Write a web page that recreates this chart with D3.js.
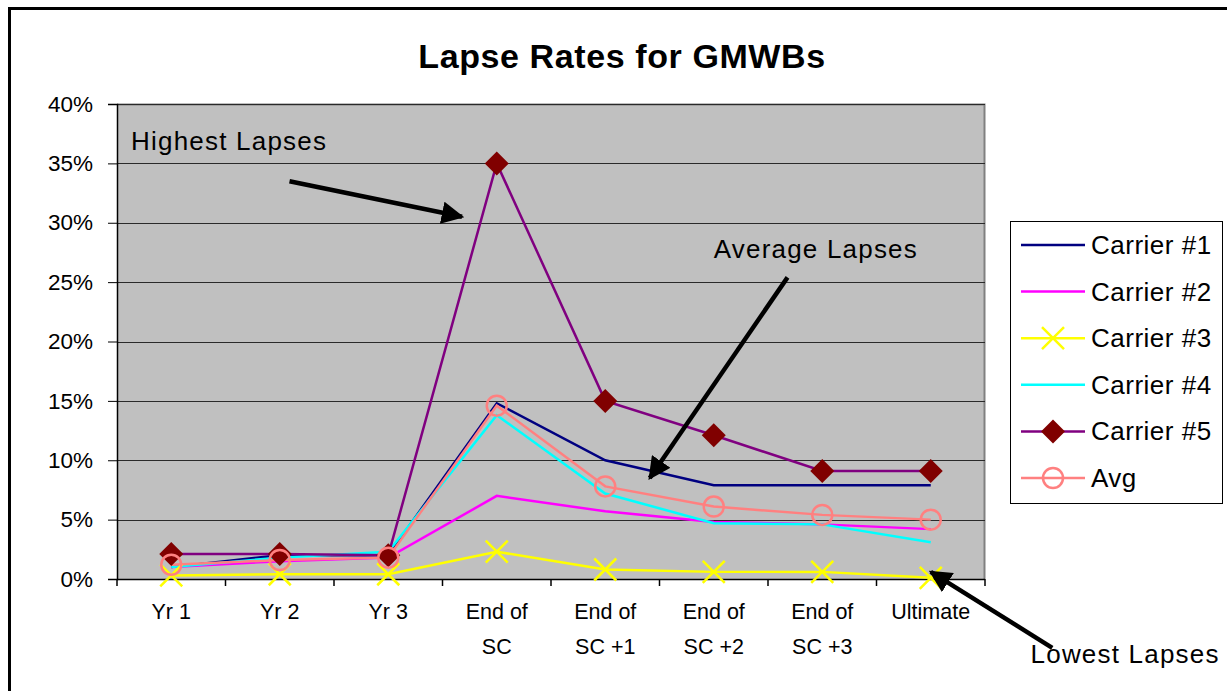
<!DOCTYPE html>
<html><head><meta charset="utf-8">
<script src="https://cdn.jsdelivr.net/npm/d3@7"></script>
<style>
html,body{margin:0;padding:0;background:#fff;}
svg{display:block;font-family:Arial,"Liberation Sans",sans-serif;}
</style></head>
<body>
<svg id="chart" width="1227" height="691"></svg>
<script>
const categories = [["Yr 1"],["Yr 2"],["Yr 3"],["End of","SC"],["End of","SC +1"],["End of","SC +2"],["End of","SC +3"],["Ultimate"]];
const carrier1 = [1.0, 2.0, 2.0, 14.8, 10.0, 7.9, 7.9, 7.9];
const carrier2 = [1.0, 1.5, 1.8, 7.0, 5.7, 4.8, 4.6, 4.2];
const carrier3 = [0.3, 0.4, 0.4, 2.3, 0.8, 0.6, 0.6, 0.1];
const carrier4 = [1.0, 1.8, 2.3, 13.8, 7.2, 4.7, 4.6, 3.1];
const carrier5 = [2.1, 2.1, 2.0, 35.0, 15.0, 12.1, 9.1, 9.1];
const avg      = [1.2, 1.6, 1.8, 14.6, 7.8, 6.1, 5.4, 5.0];
const yTicks = [0,5,10,15,20,25,30,35,40];
const seriesNames = ["Carrier #1","Carrier #2","Carrier #3","Carrier #4","Carrier #5","Avg"];

const series = [
  {name:seriesNames[0], values:carrier1, color:"#000080", marker:null},
  {name:seriesNames[1], values:carrier2, color:"#FF00FF", marker:null},
  {name:seriesNames[2], values:carrier3, color:"#FFFF00", marker:"x"},
  {name:seriesNames[3], values:carrier4, color:"#00FFFF", marker:null},
  {name:seriesNames[4], values:carrier5, color:"#800080", marker:"diamond", mfill:"#800000"},
  {name:seriesNames[5], values:avg,      color:"#FF8080", marker:"circle"}
];

const svg = d3.select("#chart");
const L=117, R=985, T=104, B=579;

// outer frame
svg.append("rect").attr("x",9.5).attr("y",8.5).attr("width",1240).attr("height",700)
  .attr("fill","none").attr("stroke","#000").attr("stroke-width",3);

const x = d3.scaleBand().domain(d3.range(categories.length)).range([L,R]).padding(0);
const xc = i => x(0) + x.bandwidth()*(i+0.5);
const y = d3.scaleLinear().domain([0,40]).range([B,T]);

// plot area
svg.append("rect").attr("x",L).attr("y",T).attr("width",R-L).attr("height",B-T).attr("fill","#C0C0C0");
svg.append("path").attr("d",`M${L},${T+0.5}H${R-0.5}V${B}`).attr("fill","none").attr("stroke","#808080").attr("stroke-width",2);

// gridlines
svg.append("g").selectAll("line").data(yTicks.filter(d=>d>0)).join("line")
  .attr("x1",L).attr("x2",R).attr("y1",d=>Math.round(y(d))+0.5).attr("y2",d=>Math.round(y(d))+0.5)
  .attr("stroke","#2a2a2a").attr("stroke-width",1);

// y axis
const yAxis = d3.axisLeft(y).tickValues(yTicks).tickFormat(d=>d+"%").tickSize(9).tickPadding(15);
const gy = svg.append("g").attr("transform",`translate(${L},0)`).call(yAxis);
gy.select(".domain").attr("stroke","#000").attr("stroke-width",1.5);
gy.selectAll(".tick line").attr("stroke","#000");
gy.selectAll("text").attr("font-size",22.5).attr("fill","#000").attr("font-family","Arial,'Liberation Sans',sans-serif");

// x axis
svg.append("line").attr("x1",L).attr("x2",R).attr("y1",B+0.5).attr("y2",B+0.5).attr("stroke","#000").attr("stroke-width",1.5);
svg.append("g").selectAll("line").data(d3.range(categories.length+1)).join("line")
  .attr("x1",i=>x(0)+i*x.bandwidth()).attr("x2",i=>x(0)+i*x.bandwidth())
  .attr("y1",B).attr("y2",B+7).attr("stroke","#000").attr("stroke-width",1.5);
const xl = svg.append("g").selectAll("text").data(categories).join("text")
  .attr("x",(d,i)=>xc(i)).attr("y",B+40).attr("text-anchor","middle").attr("font-size",21.5).attr("fill","#000");
xl.each(function(d){
  const t=d3.select(this);
  d.forEach((s,j)=>t.append("tspan").attr("x",t.attr("x")).attr("dy",j===0?0:35).text(s));
});

// lines
const line = d3.line().x((d,i)=>xc(i)).y(d=>y(d));
const g = svg.append("g");
series.forEach(s=>{
  g.append("path").datum(s.values).attr("d",line).attr("fill","none")
    .attr("stroke",s.color).attr("stroke-width",2.5).attr("stroke-linejoin","miter");
});
function drawMarker(sel, s, cx, cy){
  if(s.marker==="x"){
    const r=11;
    sel.append("path").attr("d",`M${cx-r},${cy-r}L${cx+r},${cy+r}M${cx-r},${cy+r}L${cx+r},${cy-r}`)
      .attr("stroke",s.color).attr("stroke-width",2.5);
  } else if(s.marker==="diamond"){
    const r=12;
    sel.append("path").attr("d",`M${cx},${cy-r}L${cx+r},${cy}L${cx},${cy+r}L${cx-r},${cy}Z`).attr("fill",s.mfill);
  } else if(s.marker==="circle"){
    sel.append("circle").attr("cx",cx).attr("cy",cy).attr("r",10).attr("fill","none")
      .attr("stroke",s.color).attr("stroke-width",2.5);
  }
}
series.forEach(s=>{
  if(!s.marker) return;
  const mg = g.append("g");
  s.values.forEach((v,i)=>drawMarker(mg,s,xc(i),y(v)));
});

// title
svg.append("text").attr("x",622).attr("y",68).attr("text-anchor","middle")
  .attr("font-size",34).attr("font-weight","bold").attr("letter-spacing",0.6).text("Lapse Rates for GMWBs");

// annotations (positions in category/value units)
const annoText = [
  {t:"Highest Lapses", i:-0.37, v:36.1},
  {t:"Average Lapses", i:5.0, v:27.0},
  {t:"Lowest Lapses", i:7.92, v:-7.1}
];
svg.append("defs").append("marker").attr("id","ah").attr("viewBox","0 0 10 10").attr("refX",9).attr("refY",5)
  .attr("markerWidth",5).attr("markerHeight",5).attr("orient","auto").attr("markerUnits","strokeWidth")
  .append("path").attr("d","M0,0L10,5L0,10Z").attr("fill","#000");
const arrows = [
  {i1:1.09, v1:33.5, i2:2.68, v2:30.5},
  {i1:5.68, v1:25.4, i2:4.41, v2:8.5},
  {i1:8.12, v1:-5.8, i2:7.0, v2:0.6}
];
const ix = i => x(0) + x.bandwidth()*(i+0.5);
svg.append("g").selectAll("text").data(annoText).join("text")
  .attr("x",d=>ix(d.i)).attr("y",d=>y(d.v)).attr("font-size",26).attr("letter-spacing",1.2).attr("fill","#000").text(d=>d.t);
svg.append("g").selectAll("line").data(arrows).join("line")
  .attr("x1",d=>ix(d.i1)).attr("y1",d=>y(d.v1)).attr("x2",d=>ix(d.i2)).attr("y2",d=>y(d.v2))
  .attr("stroke","#000").attr("stroke-width",4.5).attr("marker-end","url(#ah)");

// legend
const lg = svg.append("g");
lg.append("rect").attr("x",1010.5).attr("y",221.5).attr("width",212).attr("height",282)
  .attr("fill","#fff").attr("stroke","#000").attr("stroke-width",1);
series.forEach((s,k)=>{
  const ly = 245 + k*46.6;
  lg.append("line").attr("x1",1021).attr("x2",1085).attr("y1",ly).attr("y2",ly).attr("stroke",s.color).attr("stroke-width",2.5);
  drawMarker(lg, s, 1053, ly);
  lg.append("text").attr("x",1091).attr("y",ly+9).attr("font-size",26).attr("letter-spacing",0.5).attr("fill","#000").text(s.name);
});
</script>
</body></html>
